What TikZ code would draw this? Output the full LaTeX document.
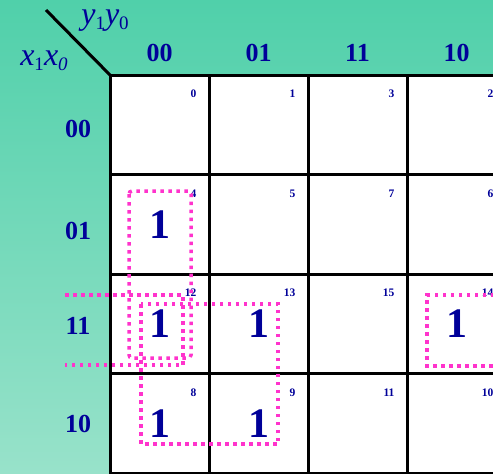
\documentclass[tikz,border=0pt]{standalone}
\usepackage{fontspec}
\setmainfont{Liberation Serif}
\definecolor{mapbgtop}{RGB}{80,208,170}
\definecolor{mapbgbot}{RGB}{152,226,202}
\definecolor{navyink}{RGB}{0,0,153}
\definecolor{loopmag}{RGB}{255,51,204}
\newcommand{\kmlow}[1]{\raisebox{-5pt}{\fontsize{19}{19}\selectfont #1}}

\begin{document}
\begin{tikzpicture}[x=1pt, y=-1pt,
    cellbox/.style={draw=black, fill=white, line width=3pt, outer sep=0pt,
        minimum width=99pt, minimum height=99.5pt, inner sep=0pt},
    head/.style={text=navyink, font=\fontsize{26}{28}\selectfont\bfseries},
    idx/.style={text=navyink, font=\fontsize{11.5}{12}\selectfont\bfseries, anchor=east},
    one/.style={text=navyink, font=\fontsize{42}{44}\selectfont\bfseries},
    varname/.style={text=navyink, font=\fontsize{32}{34}\selectfont\itshape, inner sep=0pt},
    loop/.style={draw=loopmag, line width=3.5pt, dash pattern=on 3.5pt off 4.5pt}]

    \useasboundingbox (0,0) rectangle (493,474);
    \clip (0,0) rectangle (493,474);

    % 1. Background shading
    \shade[top color=mapbgtop, bottom color=mapbgbot] (0,0) rectangle (493,474);

    % 2. Cells with their minterm numbers
    \foreach \r/\rv in {0/0,1/1,2/3,3/2} {
        \foreach \c/\cv in {0/0,1/1,2/3,3/2} {
            \pgfmathtruncatemacro{\idxnum}{4*\rv + \cv}
            \node[cellbox] (cell-\r-\c) at (159.5+99*\c, 124.75+99.5*\r) {};
            \node[idx] (num-\r-\c) at ([xshift=90pt, yshift=-19pt]cell-\r-\c.north west) {\idxnum};
        }
    }

    % 3. Corner divider and variable names
    \coordinate (diagtip) at (46,10);
    \draw[line width=3pt] (diagtip) -- (cell-0-0.north west);
    \node[varname] (ylabel) at (105,21) {y\kmlow{\upshape 1}y\kmlow{\upshape 0}};
    \node[varname] (xlabel) at (44,61) {x\kmlow{\upshape 1}x\kmlow{0}};

    % 4. Column and row headings
    \foreach \c/\txt in {0/00,1/01,2/11,3/10} {
        \node[head] (col-\c) at (159.5+99*\c, 53) {\txt};
    }
    \foreach \yy/\txt [count=\r from 0] in {129/00,231/01,326/11,424/10} {
        \node[head] (row-\r) at (78, \yy) {\txt};
    }

    % 5. Ones in the map
    \node[one] (one-1-0) at (cell-1-0) {1};
    \node[one] (one-2-0) at (cell-2-0) {1};
    \node[one] (one-2-1) at (cell-2-1) {1};
    \node[one] (one-2-3) at (cell-2-3) {1};
    \node[one] (one-3-0) at (cell-3-0) {1};
    \node[one] (one-3-1) at (cell-3-1) {1};

    % 6. Dotted groupings
    \draw[loop, rounded corners=3pt] (129,191) rectangle (191,358);
    \draw[loop] (141,304) rectangle (278,444);
    \draw[loop] (65,295) -- (183,295) -- (183,365) -- (65,365);
    \draw[loop] (510,295) -- (427,295) -- (427,366) -- (510,366);

\end{tikzpicture}
\end{document}
